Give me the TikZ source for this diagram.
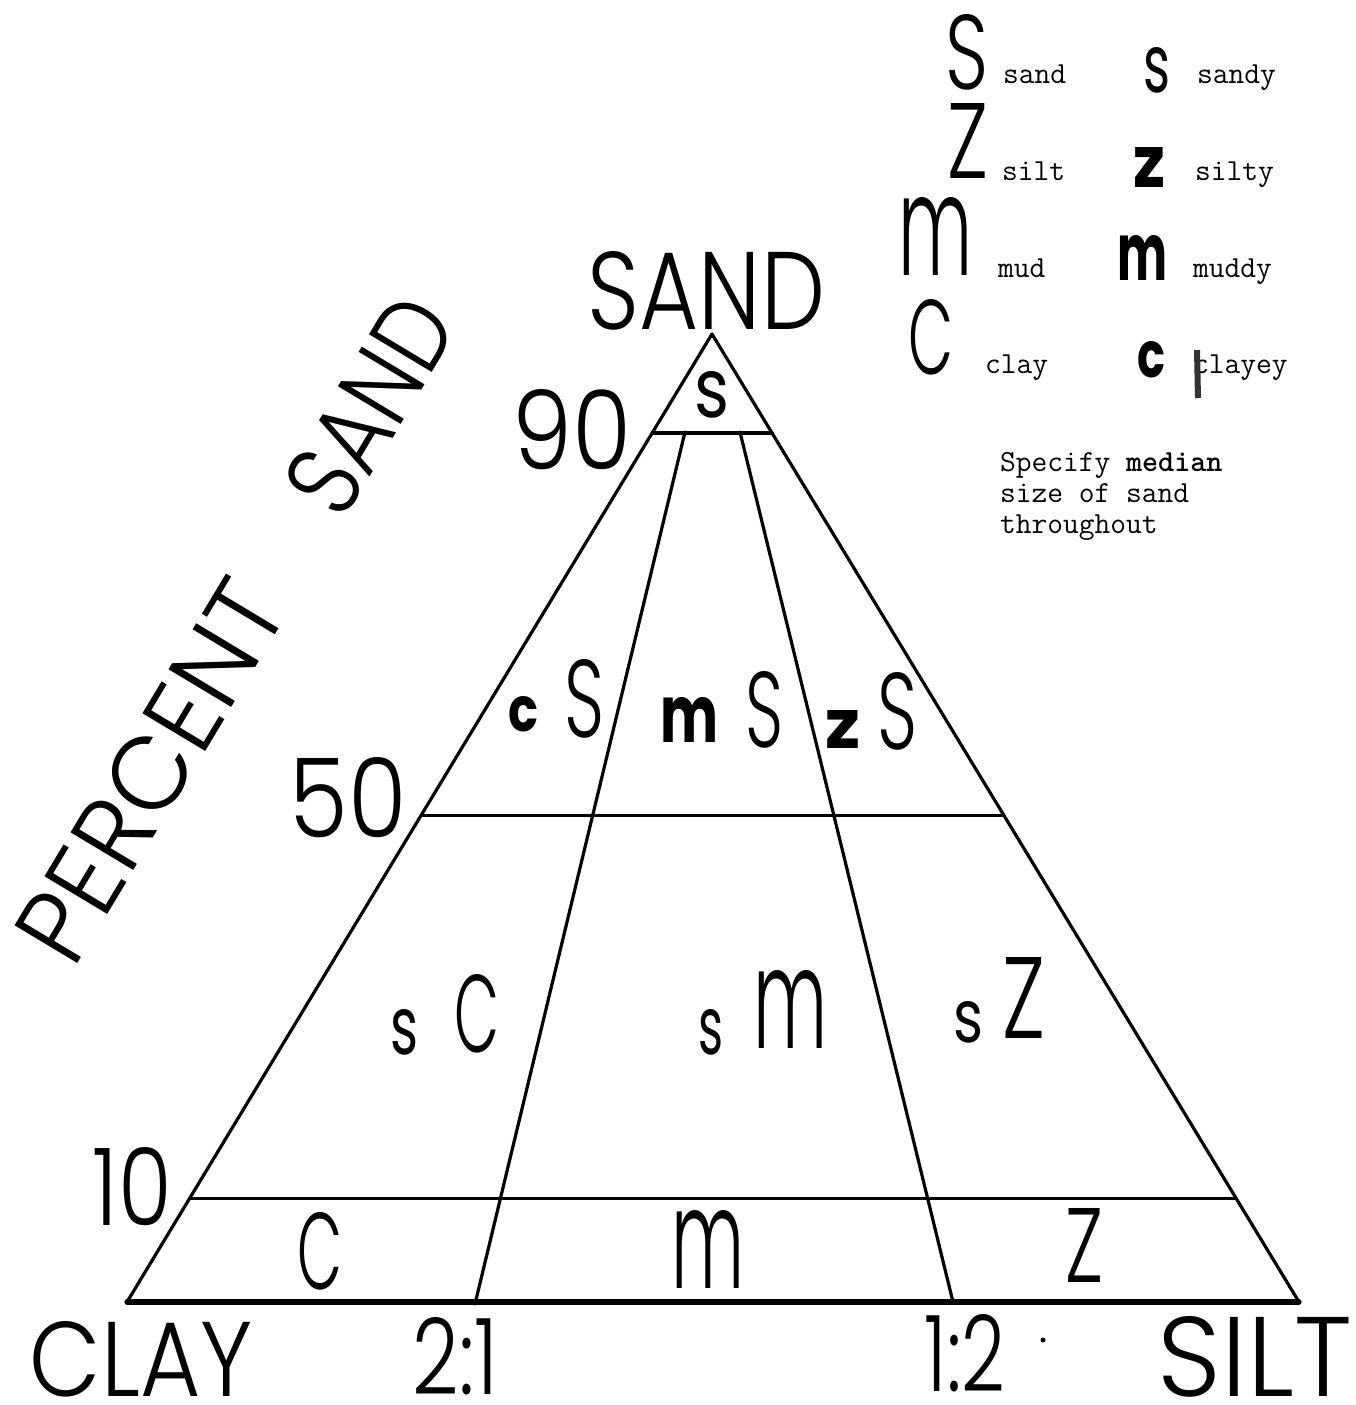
\documentclass[tikz,border=0pt]{standalone}
\usepackage{fontspec}
\usepackage{graphicx}
\usetikzlibrary{calc}
\IfFontExistsTF{Poppins Light}{\newfontfamily\hand{Poppins Light}}{\let\hand\sffamily}
\IfFontExistsTF{Poppins}{\newfontfamily\handb{Poppins}}{\let\handb\sffamily}
\newdimen\pxu \pxu=0.5pt
\newcommand\hl[4][\hand]{\resizebox{#2\pxu}{#3\pxu}{#1#4}}
\tikzset{
  lab/.style={inner sep=0pt, outer sep=0pt},
  twt/.style={inner sep=0pt, outer sep=0pt, anchor=base west, font=\ttfamily\fontsize{15.3}{17}\selectfont},
  ln/.style={line width=1.6pt, line cap=round, line join=round},
  base/.style={line width=2.6pt, line cap=round, line join=round}
}
\begin{document}
\begin{tikzpicture}[x=0.5pt, y=-0.5pt]
\useasboundingbox (0,0) rectangle (1356,1405);
\fill[white] (0,0) rectangle (1356,1405);
% corners
\coordinate (A) at (712,334);
\coordinate (BL) at (127,1302);
\coordinate (BR) at (1299,1302);
% level lines
\coordinate (l90) at ($(A)!0.1022!(BL)$);
\coordinate (r90) at ($(A)!0.1022!(BR)$);
\coordinate (l50) at ($(A)!0.4974!(BL)$);
\coordinate (r50) at ($(A)!0.4974!(BR)$);
\coordinate (l10) at ($(A)!0.8927!(BL)$);
\coordinate (r10) at ($(A)!0.8927!(BR)$);
% ratio lines
\coordinate (q1t) at (685,432);
\coordinate (q1b) at (475,1304);
\coordinate (q2t) at (740,432);
\coordinate (q2b) at (953,1302);
% triangle
\draw[ln] (BL) -- (A) -- (BR);
\draw[base] (BL) -- (BR);
\draw[ln] (l90) -- (r90);
\draw[ln] (l50) -- (r50);
\draw[ln] (l10) -- (r10);
\draw[ln] (q1t) -- (q1b);
\draw[ln] (q2t) -- (q2b);
% axis lettering
\node[lab] (tSAND) at (706.5,291) {\hl{237}{78}{SAND}};
\node[lab] (t90) at (572.5,430) {\hl{119}{80}{90}};
\node[lab] (t50) at (348.5,798) {\hl{117}{80}{50}};
\node[lab] (t10) at (132.5,1187) {\hl{79}{78}{10}};
\node[lab] (tCLAY) at (141.5,1359) {\hl{223}{75}{CLAY}};
\node[lab] (t21) at (455.5,1356) {\hl{85}{77}{2:1}};
\node[lab] (t12) at (965,1353) {\hl{80}{77}{1:2}};
\node[lab] (tSILT) at (1255,1357) {\hl{194}{80}{SILT}};
\fill (1043,1340) circle (2.5);
\node[lab, rotate=59] (tPCT) at (151,771) {\hl{422}{74}{PERCENT}};
\node[lab, rotate=59] (tPSD) at (370,405) {\hl{230}{74}{SAND}};
% region labels
\node[lab] (rs) at (711.5,395) {\hl[\handb]{35}{46}{s}};
\node[lab] (rcSc) at (523,714.5) {\hl[\handb\bfseries]{30}{35}{c}};
\node[lab] (rcSS) at (585,699) {\hl{40}{78}{S}};
\node[lab] (rmSm) at (689,719.5) {\hl[\handb\bfseries]{58}{45}{m}};
\node[lab] (rmSS) at (764,710) {\hl{38}{76}{S}};
\node[lab] (rzSz) at (842.5,729) {\hl[\handb\bfseries]{35}{38}{z}};
\node[lab] (rzSS) at (897,711.5) {\hl{40}{77}{S}};
\node[lab] (rsCs) at (404,1032.5) {\hl[\handb]{28}{45}{s}};
\node[lab] (rsCC) at (477.5,1014) {\hl{45}{78}{C}};
\node[lab] (rsms) at (710.5,1032.5) {\hl[\handb]{25}{45}{s}};
\node[lab] (rsmm) at (790,1009) {\hl{74}{78}{m}};
\node[lab] (rsZs) at (968,1022.5) {\hl[\handb]{30}{41}{s}};
\node[lab] (rsZZ) at (1023.5,997.5) {\hl{43}{81}{Z}};
\node[lab] (rC) at (320.5,1251.5) {\hl{45}{77}{C}};
\node[lab] (rm) at (708.5,1249) {\hl{73}{78}{m}};
\node[lab] (rZ) at (1084,1245) {\hl{38}{74}{Z}};
% legend
\node[lab] (gS) at (966.5,52.5) {\hl{43}{75}{S}};
\node[lab] (gZ) at (967.5,140.5) {\hl{41}{75}{Z}};
\node[lab] (gm) at (935,236) {\hl{74}{78}{m}};
\node[lab] (gC) at (930.5,337.5) {\hl{45}{75}{C}};
\node[lab] (gs) at (1156.5,70.5) {\hl[\handb]{27}{45}{s}};
\node[lab] (gz) at (1149,167) {\hl[\handb\bfseries]{32}{40}{z}};
\node[lab] (gmm) at (1142,257.5) {\hl[\handb\bfseries]{50}{45}{m}};
\node[lab] (gc) at (1151,360) {\hl[\handb\bfseries]{28}{36}{c}};
\node[twt] (wsand) at (1003,83) {sand};
\node[twt] (wsilt) at (1002,180) {silt};
\node[twt] (wmud) at (998,277) {mud};
\node[twt] (wclay) at (985,373) {clay};
\node[twt] (wsandy) at (1197,83) {sandy};
\node[twt] (wsilty) at (1195,180) {silty};
\node[twt] (wmuddy) at (1193,277) {muddy};
\node[twt] (wclayey) at (1193,373) {clayey};
\draw[line width=3pt, black!80] (1197,350) -- (1198,398);
\node[twt] (sp1) at (1000,471) {Specify \textbf{median}};
\node[twt] (sp2) at (1000,502) {size of sand};
\node[twt] (sp3) at (1000,533) {throughout};
\end{tikzpicture}
\end{document}
